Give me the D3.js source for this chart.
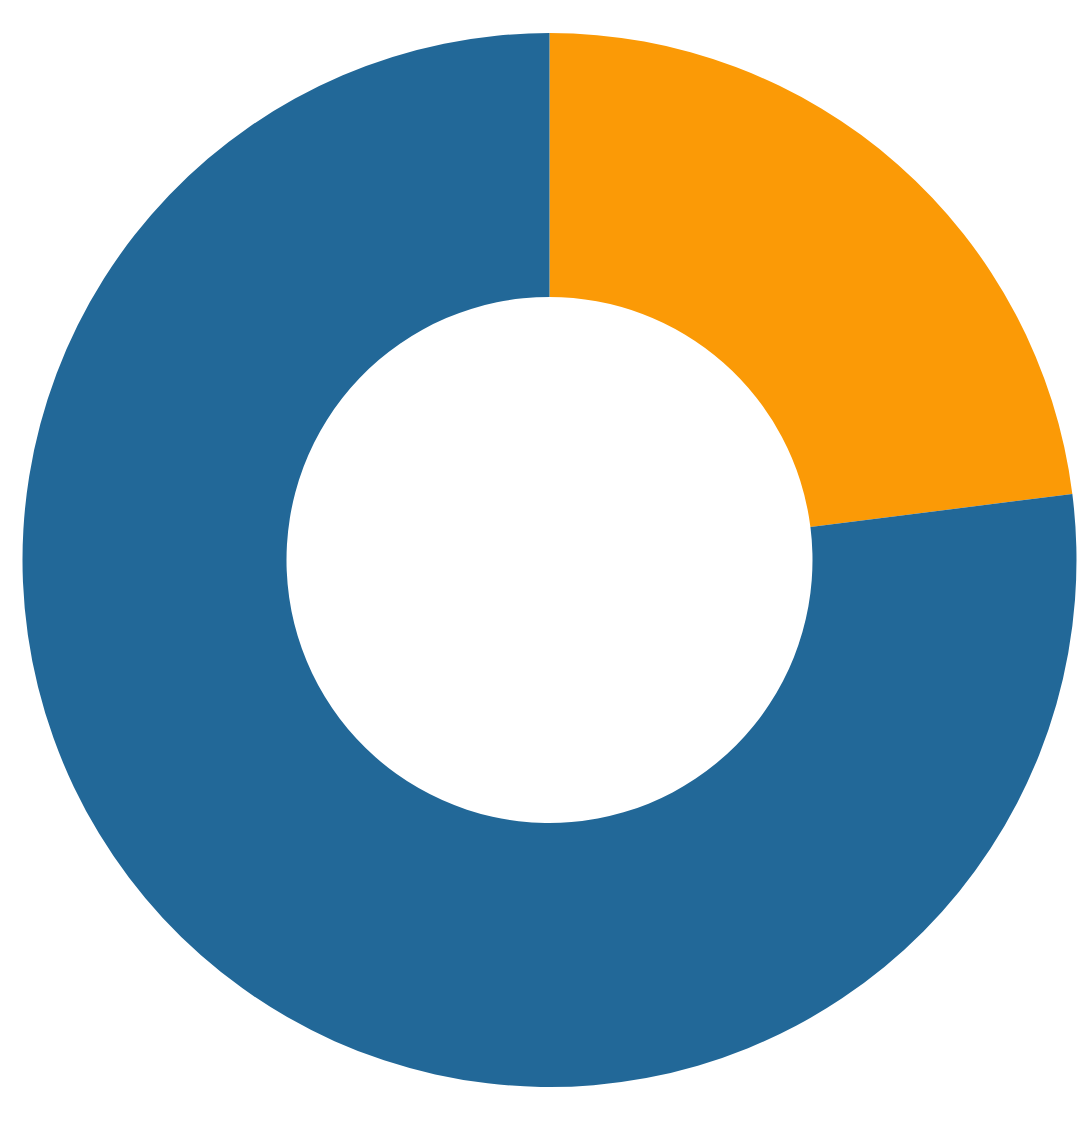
<!DOCTYPE html>
<html>
<head>
<meta charset="utf-8">
<script src="https://cdn.jsdelivr.net/npm/d3@7"></script>
<style>
  html, body { margin: 0; padding: 0; background: #fff; }
</style>
</head>
<body>
<div id="chart"></div>
<script>
// chart data
const categories = ['A', 'B'];
const values = [23, 77];
const colors = ['#fb9a06', '#226898'];

const width = 1092;
const height = 1125;
const cx = 549.5;
const cy = 560;
const outerRadius = 527;
const innerRadius = 263;

const svg = d3.select('#chart')
  .append('svg')
  .attr('width', width)
  .attr('height', height)
  .attr('viewBox', [0, 0, width, height]);

const pie = d3.pie()
  .sort(null)
  .value(d => d.value);

const arc = d3.arc()
  .innerRadius(innerRadius)
  .outerRadius(outerRadius);

const color = d3.scaleOrdinal()
  .domain(categories)
  .range(colors);

const slices = categories.map((c, i) => ({ name: c, value: values[i] }));

svg.append('g')
  .attr('transform', `translate(${cx}, ${cy})`)
  .selectAll('path')
  .data(pie(slices))
  .join('path')
  .attr('d', arc)
  .attr('fill', d => color(d.data.name));
</script>
</body>
</html>
